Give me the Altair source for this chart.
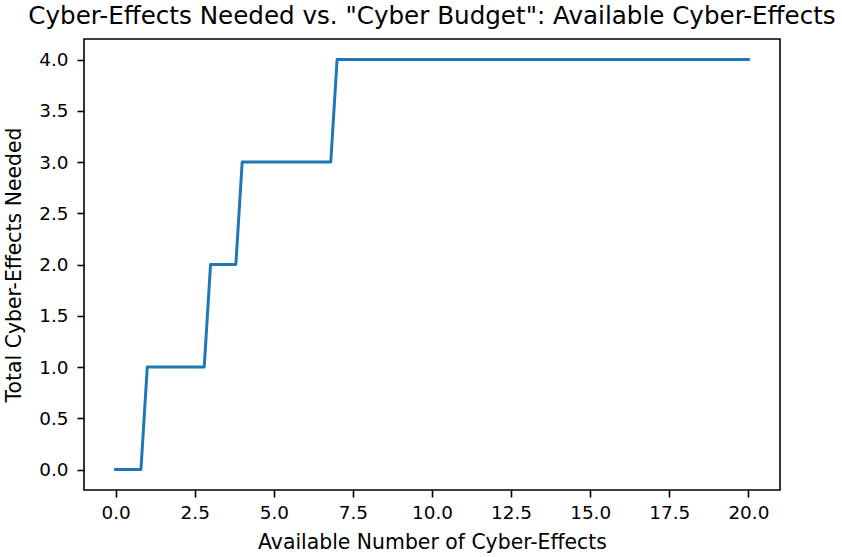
import altair as alt
import pandas as pd

# Data
budget = [0.0, 0.8, 1.0, 2.8, 3.0, 3.8, 4.0, 6.8, 7.0, 20.0]
needed = [0, 0, 1, 1, 2, 2, 3, 3, 4, 4]
x_ticks = [0, 2.5, 5, 7.5, 10, 12.5, 15, 17.5, 20]
y_ticks = [0, 0.5, 1.0, 1.5, 2.0, 2.5, 3.0, 3.5, 4.0]

df = pd.DataFrame({"budget": budget, "needed": needed})

FONT = "DejaVu Sans"
common_axis = dict(
    grid=False,
    domain=False,
    tickColor="black",
    tickWidth=1.6,
    tickSize=7,
    labelFont=FONT,
    labelFontSize=18.4,
    labelColor="black",
    titleFont=FONT,
    titleFontSize=20.4,
    titleFontWeight="normal",
    titleColor="black",
    format=".1f",
)

chart = (
    alt.Chart(df)
    .mark_line(color="#1f77b4", strokeWidth=3, strokeCap="square", strokeJoin="round")
    .encode(
        x=alt.X(
            "budget:Q",
            scale=alt.Scale(domain=[-1, 21], nice=False, zero=False),
            axis=alt.Axis(values=x_ticks, title="Available Number of Cyber-Effects",
                          labelPadding=6, titlePadding=11, **common_axis),
        ),
        y=alt.Y(
            "needed:Q",
            scale=alt.Scale(domain=[-0.2, 4.2], nice=False, zero=False),
            axis=alt.Axis(values=y_ticks, title="Total Cyber-Effects Needed",
                          labelPadding=9, titlePadding=14, **common_axis),
        ),
    )
    .properties(
        width=696,
        height=451,
        title=alt.TitleParams(
            'Cyber-Effects Needed vs. "Cyber Budget": Available Cyber-Effects',
            font=FONT,
            fontSize=24.6,
            fontWeight="normal",
            color="black",
            anchor="middle",
            baseline="alphabetic",
            offset=12,
            dy=22,
        ),
        padding={"left": 84, "top": 39, "right": 62, "bottom": 67},
        autosize=alt.AutoSizeParams(type="none"),
        background="white",
    )
    .configure_view(stroke="black", strokeWidth=1.6)
)

chart.save("out.html", embed_options={"renderer": "svg", "actions": False})
